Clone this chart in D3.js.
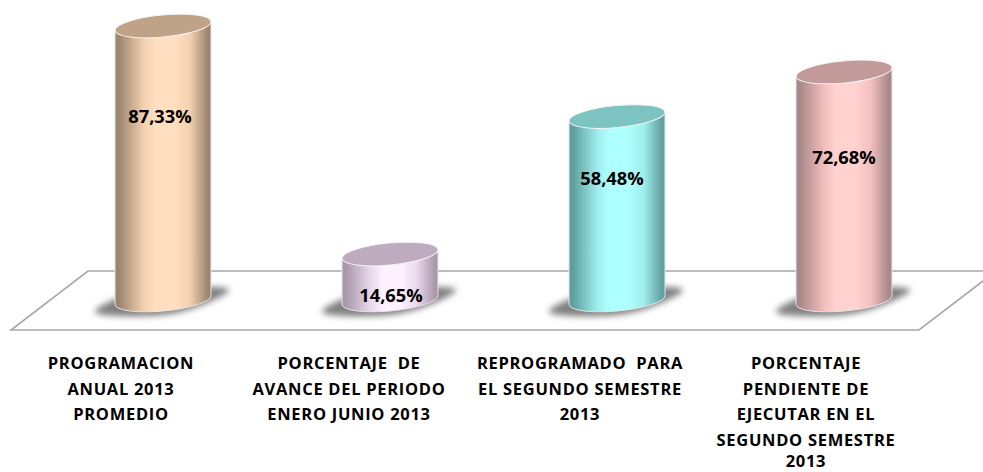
<!DOCTYPE html>
<html>
<head>
<meta charset="utf-8">
<script src="https://cdn.jsdelivr.net/npm/d3@7"></script>
<style>
  html, body { margin: 0; padding: 0; background: #fff; }
  text { font-family: "Open Sans", Lato, sans-serif; font-weight: 700; fill: #000; }
</style>
</head>
<body>
<div id="chart"></div>
<script>
// values
var categories = ["prog", "avance", "reprog", "pendiente"];
var values = [87.33, 14.65, 58.48, 72.68];
var valueLabels = ["87,33%", "14,65%", "58,48%", "72,68%"];
var categoryLines = [
  ["PROGRAMACION", "ANUAL 2013", "PROMEDIO"],
  ["PORCENTAJE  DE", "AVANCE DEL PERIODO", "ENERO JUNIO 2013"],
  ["REPROGRAMADO  PARA", "EL SEGUNDO SEMESTRE", "2013"],
  ["PORCENTAJE", "PENDIENTE DE", "EJECUTAR EN EL", "SEGUNDO SEMESTRE", "2013"]
];
var bodyLight = ["#ffdfc0", "#fdf0ff", "#aeffff", "#ffd2d0"];
var bodyMid = ["#f3d0b0", "#ead8ec", "#a0eeee", "#f2c0be"];
var bodyDark = ["#9c856f", "#a898aa", "#5f9f9f", "#a88888"];
var topColors = ["#c0a288", "#bfabc0", "#7cc3c2", "#c29a9a"];

var width = 983;
var height = 472;

var svg = d3.select("#chart").append("svg")
  .attr("width", width)
  .attr("height", height)
  .style("display", "block");

var x = d3.scalePoint(categories, [163, 844]);
var y = d3.scaleLinear([0, 87.33], [300, 26]);
var xLabel = d3.scaleOrdinal(categories, [121, 349, 580, 806]);

// value labels sit at hand placed spots in the original
var valueLabelX = d3.scaleOrdinal(categories, [160, 391, 612, 844]);
var valueLabelY = d3.scaleOrdinal(categories, [123, 302, 185, 164]);

var rx = 48.2;
var ry = 11;
var tilt = -5.4;
var dx = rx * Math.cos(tilt * Math.PI / 180);
var dy = rx * Math.sin(tilt * Math.PI / 180);

var defs = svg.append("defs");

defs.append("filter")
  .attr("id", "soft")
  .attr("x", "-20%").attr("y", "-50%")
  .attr("width", "140%").attr("height", "200%")
  .append("feGaussianBlur")
  .attr("stdDeviation", 3.4);

defs.append("filter")
  .attr("id", "edge")
  .append("feGaussianBlur")
  .attr("stdDeviation", 0.5);

categories.forEach(function (c, i) {
  var g = defs.append("linearGradient").attr("id", "body" + i);
  [[0, bodyDark[i]], [0.04, bodyDark[i]], [0.3, bodyMid[i]], [0.42, bodyLight[i]],
    [0.62, bodyLight[i]], [0.78, bodyMid[i]], [0.97, bodyDark[i]], [1, bodyDark[i]]]
    .forEach(function (s) {
      g.append("stop").attr("offset", s[0]).attr("stop-color", s[1]);
    });
});

// floor
var floor = svg.append("g")
  .attr("fill", "none")
  .attr("stroke", "#a8a8a8")
  .attr("stroke-width", 1.6)
  .attr("filter", "url(#edge)");

floor.append("path")
  .attr("d", d3.line()([[983, 271], [88, 271], [11, 330], [919, 330], [983, 281]]));

// shadows
var shadowShape = d3.line().curve(d3.curveCatmullRomClosed);
svg.append("g").selectAll("path")
  .data(categories)
  .join("path")
  .attr("d", function (c) {
    var cx = x(c);
    return shadowShape([[cx - 68, 312], [cx - 42, 297], [cx + 30, 287], [cx + 66, 290],
      [cx + 42, 304], [cx, 315]]);
  })
  .attr("fill", "#808080")
  .attr("filter", "url(#soft)");

var bars = svg.append("g").selectAll("g")
  .data(categories)
  .join("g");

// cylinder body
bars.append("path")
  .attr("d", function (c, i) {
    var cx = x(c), top = y(values[i]), base = y(0);
    return "M" + (cx - dx) + "," + (top - dy) +
      "L" + (cx - dx) + "," + (base - dy) +
      "A" + rx + "," + ry + " " + tilt + " 0 0 " + (cx + dx) + "," + (base + dy) +
      "L" + (cx + dx) + "," + (top + dy) + "Z";
  })
  .attr("fill", function (c, i) { return "url(#body" + i + ")"; })
  .attr("stroke", "#e4e4e4")
  .attr("stroke-width", 1);

// cylinder top
bars.append("ellipse")
  .attr("rx", rx)
  .attr("ry", ry)
  .attr("transform", function (c, i) {
    return "translate(" + x(c) + "," + y(values[i]) + ") rotate(" + tilt + ")";
  })
  .attr("fill", function (c, i) { return topColors[i]; })
  .attr("stroke", "#f4f4f4")
  .attr("stroke-width", 1);

// value labels
bars.append("text")
  .attr("x", function (c) { return valueLabelX(c); })
  .attr("y", function (c) { return valueLabelY(c); })
  .attr("text-anchor", "middle")
  .style("font-size", "18.3px")
  .text(function (c, i) { return valueLabels[i]; });

// category labels, last line pulled up a little so it stays inside the frame
var lineY = d3.scaleLinear([0, 3], [369, 446]);
svg.append("g").selectAll("text")
  .data(categories)
  .join("text")
  .attr("text-anchor", "middle")
  .style("font-size", "16.5px")
  .style("letter-spacing", "0.7px")
  .style("white-space", "pre")
  .each(function (c, i) {
    d3.select(this).selectAll("tspan")
      .data(categoryLines[i])
      .join("tspan")
      .attr("x", xLabel(c))
      .attr("y", function (d, j) { return j === 4 ? 467 : lineY(j); })
      .text(function (d) { return d; });
  });
</script>
</body>
</html>
